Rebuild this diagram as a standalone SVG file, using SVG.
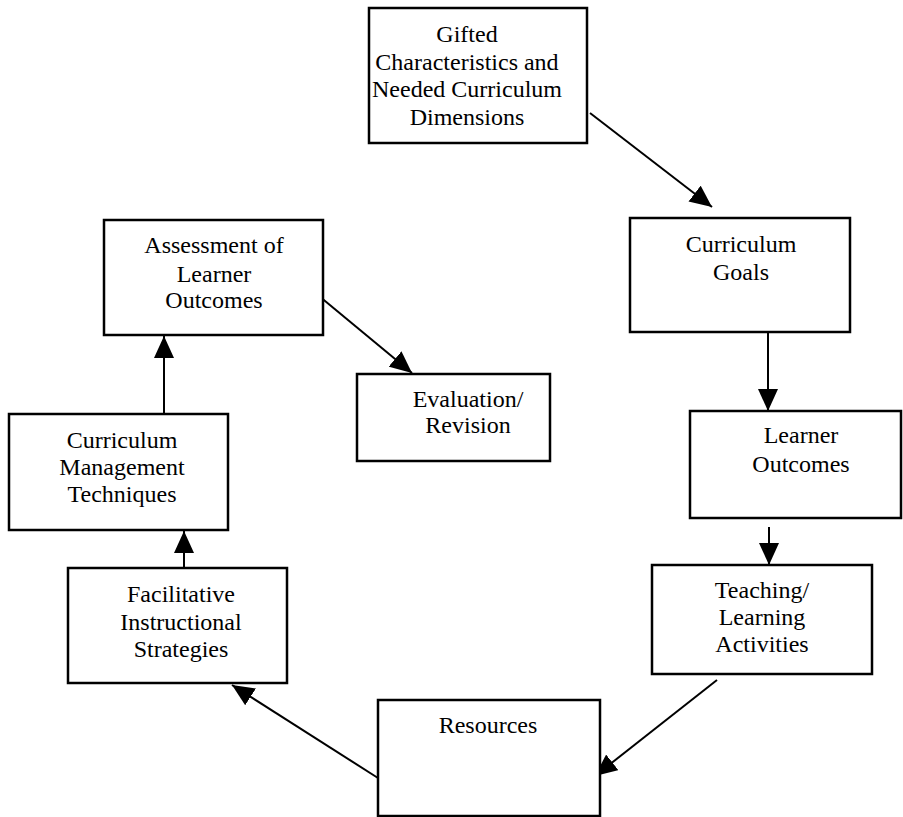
<svg xmlns="http://www.w3.org/2000/svg" width="903" height="817" viewBox="0 0 903 817">
<defs>
<marker id="ah" markerUnits="userSpaceOnUse" markerWidth="24" markerHeight="20" refX="22" refY="10" orient="auto">
<path d="M0,0 L22,10 L0,20 Z" fill="#000"/>
</marker>
</defs>
<style>
.box{fill:#fff;stroke:#000;stroke-width:2.5}
.t{font-family:"Liberation Serif","Times New Roman",serif;font-size:24px;fill:#000;text-anchor:middle}
.c{stroke:#000;stroke-width:2;fill:none;marker-end:url(#ah)}
</style>
<rect width="903" height="817" fill="#fff"/>
<g id="connectors">
<line class="c" x1="590" y1="113" x2="712" y2="207"/>
<line class="c" x1="768" y1="332" x2="768" y2="411"/>
<line class="c" x1="769" y1="527" x2="769" y2="565"/>
<line class="c" x1="717" y1="680" x2="595" y2="776"/>
<line class="c" x1="378" y1="778" x2="232" y2="685"/>
<line class="c" x1="184" y1="568" x2="184" y2="531"/>
<line class="c" x1="164" y1="414" x2="164" y2="336"/>
<line class="c" x1="319" y1="296" x2="412" y2="373"/>
</g>
<g id="gifted">
<rect class="box" x="369" y="8" width="218" height="135"/>
<text class="t" x="467" y="42">Gifted</text>
<text class="t" x="467" y="70">Characteristics and</text>
<text class="t" x="467" y="97">Needed Curriculum</text>
<text class="t" x="467" y="125">Dimensions</text>
</g>
<g id="goals">
<rect class="box" x="630" y="218" width="220" height="114"/>
<text class="t" x="741" y="252">Curriculum</text>
<text class="t" x="741" y="280">Goals</text>
</g>
<g id="learner">
<rect class="box" x="690" y="411" width="211" height="107"/>
<text class="t" x="801" y="443">Learner</text>
<text class="t" x="801" y="472">Outcomes</text>
</g>
<g id="teaching">
<rect class="box" x="652" y="565" width="220" height="109"/>
<text class="t" x="762" y="598">Teaching/</text>
<text class="t" x="762" y="625">Learning</text>
<text class="t" x="762" y="652">Activities</text>
</g>
<g id="resources">
<rect class="box" x="378" y="700" width="222" height="116"/>
<text class="t" x="488" y="733">Resources</text>
</g>
<g id="facilitative">
<rect class="box" x="68" y="568" width="219" height="115"/>
<text class="t" x="181" y="602">Facilitative</text>
<text class="t" x="181" y="630">Instructional</text>
<text class="t" x="181" y="657">Strategies</text>
</g>
<g id="management">
<rect class="box" x="9" y="414" width="219" height="116"/>
<text class="t" x="122" y="448">Curriculum</text>
<text class="t" x="122" y="475">Management</text>
<text class="t" x="122" y="502">Techniques</text>
</g>
<g id="assessment">
<rect class="box" x="104" y="220" width="219" height="115"/>
<text class="t" x="214" y="253">Assessment of</text>
<text class="t" x="214" y="282">Learner</text>
<text class="t" x="214" y="308">Outcomes</text>
</g>
<g id="evaluation">
<rect class="box" x="357" y="374" width="193" height="87"/>
<text class="t" x="468" y="407">Evaluation/</text>
<text class="t" x="468" y="433">Revision</text>
</g>
</svg>
